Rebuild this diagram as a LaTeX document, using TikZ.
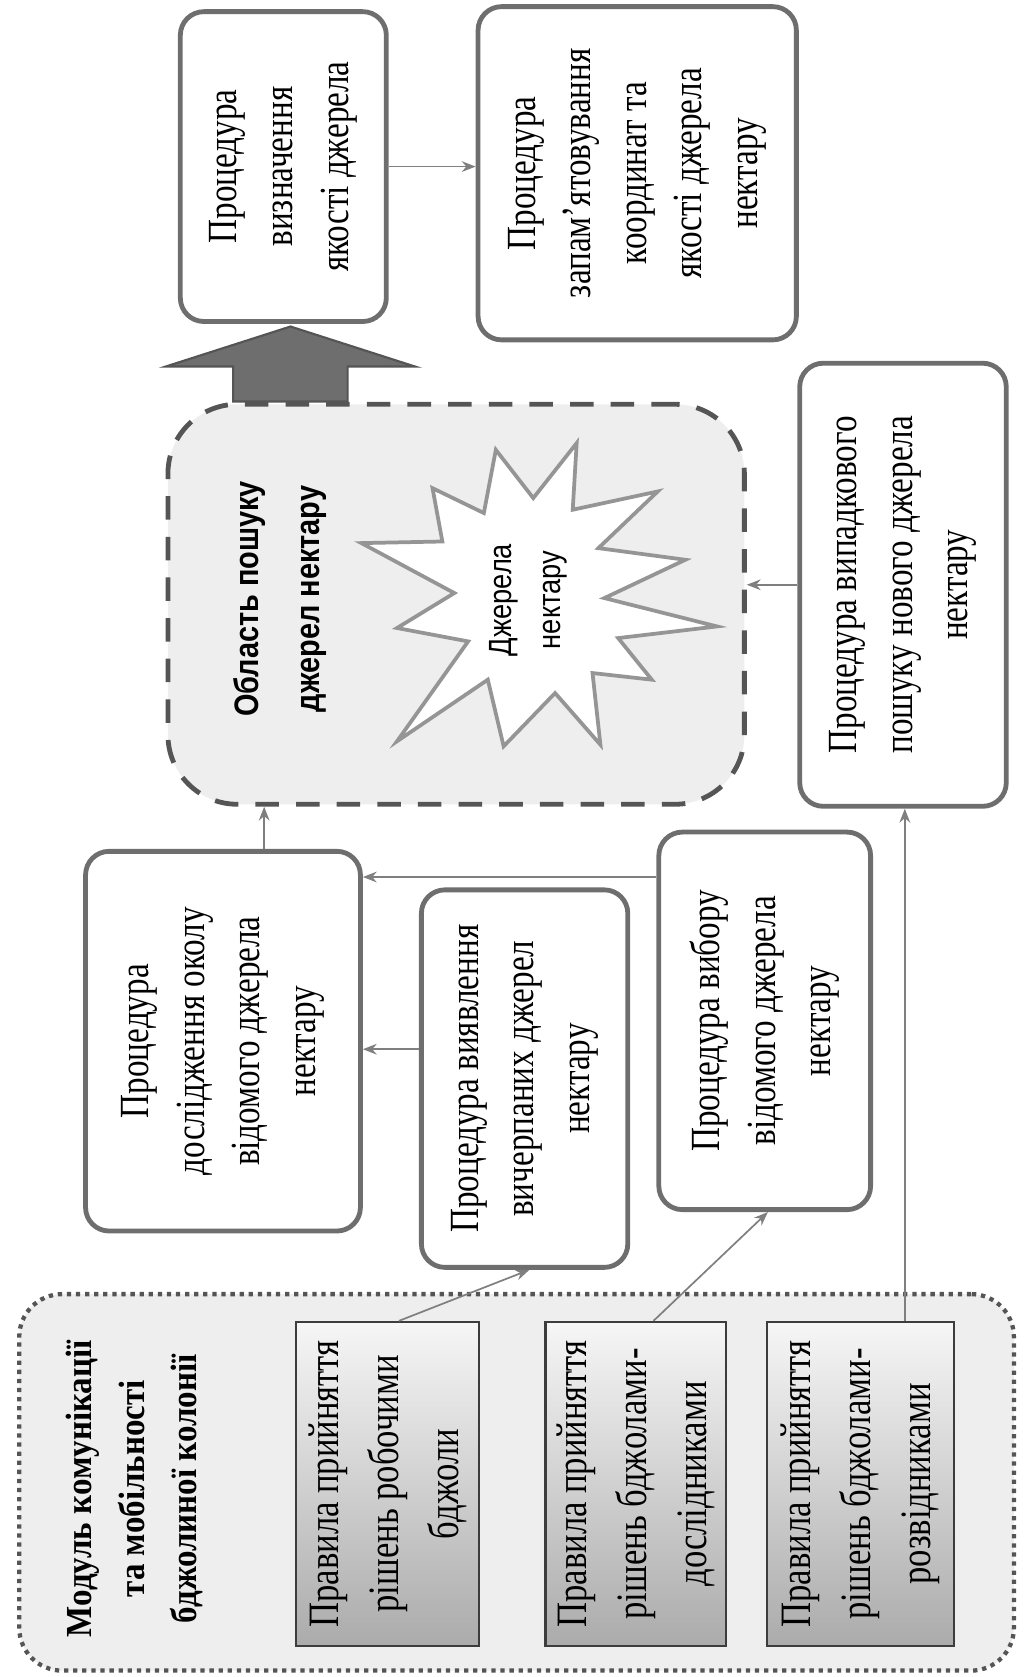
\documentclass[tikz,border=0pt]{standalone}
\usepackage{fontspec}
\setmainfont{Liberation Serif}
\newfontfamily\boxserif[FakeStretch=0.8]{Liberation Serif}
\newfontfamily\titleserif[FakeStretch=0.9]{Liberation Serif}
\newfontfamily\labelsans[FakeStretch=0.85]{Liberation Sans}
\usetikzlibrary{calc,arrows.meta}
\definecolor{linegray}{HTML}{7F7F7F}
\definecolor{boxedge}{HTML}{6E6E6E}
\definecolor{panel}{HTML}{EEEEEE}
\definecolor{panedge}{HTML}{555555}
\definecolor{ruleedge}{HTML}{3C3C3C}
\definecolor{ruledark}{HTML}{ABABAB}
\definecolor{rulelight}{HTML}{F6F6F6}
\definecolor{bigarrow}{HTML}{6E6E6E}
\definecolor{bigarrowedge}{HTML}{555555}
\definecolor{staredge}{HTML}{959595}
\begin{document}
\begin{tikzpicture}[x=1pt, y=-1pt,
  proc/.style={rotate=90, draw=boxedge, line width=4.5pt, rounded corners=22pt,
    fill=white, align=center, inner sep=0pt, font=\boxserif\fontsize{38.75}{52}\selectfont},
  rulebox/.style={rotate=90, draw=ruleedge, line width=2pt, top color=rulelight,
    bottom color=ruledark, align=center, inner sep=0pt, minimum width=303pt,
    font=\boxserif\fontsize{40.5}{56}\selectfont},
  conn/.style={draw=linegray, line width=1.6pt, -{Stealth[length=13pt,width=10pt]}},
  dottedpanel/.style={draw=panedge, fill=panel, line width=4pt, rounded corners=40pt,
    dash pattern=on 4pt off 4.5pt},
  dashedpanel/.style={draw=panedge, fill=panel, line width=4.5pt, rounded corners=65pt,
    dash pattern=on 22pt off 16pt}]
\useasboundingbox (0,0) rectangle (957,1568);

% module of communication and mobility
\node[dottedpanel, minimum width=930pt, minimum height=352pt] (D) at (483,1386) {};
\node[rotate=90, align=center, font=\titleserif\bfseries\fontsize{34.3}{49}\selectfont] (T)
  at (126,1392) {Модуль комунікації\\та мобільності\\бджолиної колонії};
\node[rulebox, minimum height=171pt] (R1) at (362.5,1387.5)
  {Правила прийняття\\рішень робочими\\бджоли};
\node[rulebox, minimum height=169pt] (R2) at (594.5,1387.5)
  {Правила прийняття\\рішень бджолами-\\дослідниками};
\node[rulebox, minimum height=175pt] (R3) at (804.5,1387.5)
  {Правила прийняття\\рішень бджолами-\\розвідниками};

% search area with nectar sources
\node[dashedpanel, minimum width=539pt, minimum height=374pt] (A) at (426.5,565) {};
\node[rotate=90, align=center, font=\labelsans\bfseries\fontsize{31.8}{57}\selectfont] (AL)
  at (261.5,560) {Область пошуку\\джерел нектару};
\draw[draw=staredge, fill=white, line width=3.5pt, line join=miter]
  (463.6,420.6) -- (498.6,465.7) -- (539.2,414.3) -- (535.5,476.6) --
  (615,459.5) -- (559.5,512.5) -- (640.8,523.4) -- (565.1,559.2) --
  (670.4,585.7) -- (578,596.6) -- (609.4,635.5) -- (554,629.3) --
  (561.4,696.3) -- (519,648) -- (470.9,697.8) -- (456.1,635.5) --
  (371.2,693.1) -- (437.7,599.7) -- (371.2,587.2) -- (424.8,554.5) --
  (337.9,507.8) -- (413.6,506.3) -- (404.4,456.4) -- (452.4,479.7) -- cycle;
\node[rotate=90, align=center, font=\labelsans\fontsize{30}{46}\selectfont] (SL)
  at (494,561) {Джерела\\нектару};

% block arrow from the search area to the quality procedure
\draw[fill=bigarrow, draw=bigarrowedge, line width=2pt, line join=miter]
  (218,375.4) -- (218,342.7) -- (155,342.7) -- (271.6,305.3) --
  (388,342.7) -- (325,342.7) -- (325,375.4) -- cycle;

% procedures
\node[proc, minimum width=289.7pt, minimum height=192.6pt] (Q) at (264.9,155.75)
  {Процедура\\визначення\\якості джерела};
\node[proc, minimum width=311.6pt, minimum height=297.6pt] (M) at (595.8,162)
  {Процедура\\запам’ятовування\\координат та\\якості джерела\\нектару};
\node[proc, minimum width=355pt, minimum height=257pt] (E) at (208.5,973.5)
  {Процедура\\дослідження околу\\відомого джерела\\нектару};
\node[proc, minimum width=353pt, minimum height=193pt] (V) at (490.5,1008.5)
  {Процедура виявлення\\вичерпаних джерел\\нектару};
\node[proc, minimum width=353pt, minimum height=198pt] (S) at (715,954.5)
  {Процедура вибору\\відомого джерела\\нектару};
\node[proc, minimum width=414.3pt, minimum height=193.1pt] (N) at (844.3,546.75)
  {Процедура випадкового\\пошуку нового джерела\\нектару};

% connectors
\draw[conn] (Q.south) -- (Q.south -| M.north);
\coordinate (eTop) at ($(E.east)+(38.5,0)$);
\draw[conn] (eTop) -- (eTop |- A.south);
\coordinate (vOut) at ($(V.north)+(0,-27.5)$);
\draw[conn] (vOut) -- (vOut -| E.south);
\coordinate (sOut) at ($(S.north)+(0,-134.5)$);
\draw[conn] (sOut) -- (sOut -| E.south);
\draw[conn] (N.north) -- (N.north -| A.east);
\coordinate (r1Out) at ($(R1.east)+(10.5,0)$);
\coordinate (vIn) at ($(V.west)+(4.5,0)$);
\draw[conn] (r1Out) -- (vIn);
\coordinate (r2Out) at ($(R2.east)+(16.5,0)$);
\coordinate (sIn) at ($(S.west)+(3,0)$);
\draw[conn] (r2Out) -- (sIn);
\coordinate (r3Out) at ($(R3.east)+(41.5,0)$);
\draw[conn] (r3Out) -- (r3Out |- N.west);
\end{tikzpicture}
\end{document}
